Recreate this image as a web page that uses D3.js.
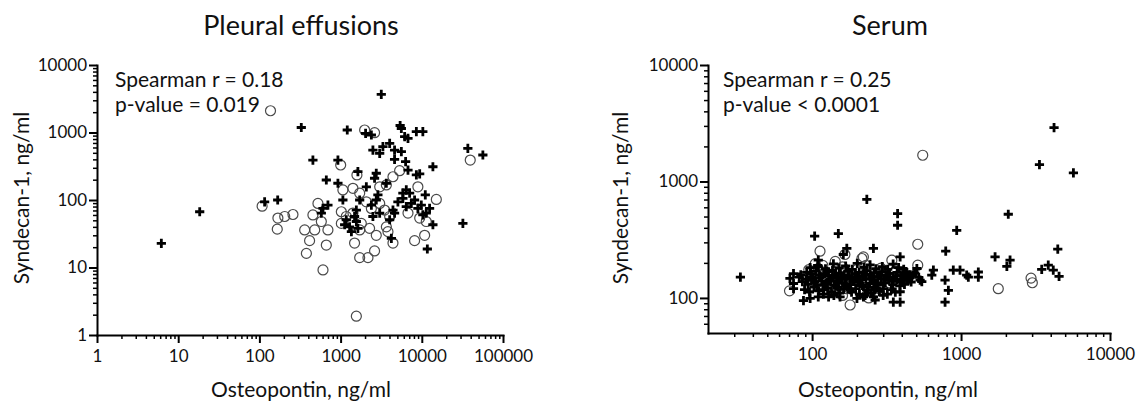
<!DOCTYPE html>
<html lang="en">
<head>
<meta charset="UTF-8">
<title>Syndecan-1 vs Osteopontin</title>
<script src="https://d3js.org/d3.v7.min.js"></script>
<style>
    body { margin: 0; background: #fff; }
    svg { display: block; font-family: Lato, "Open Sans", sans-serif; }
    .domain { stroke: #000; stroke-width: 2; stroke-linecap: square; }
    .major line { stroke: #000; stroke-width: 2; }
    .minor line { stroke: #000; stroke-width: 1.5; }
    .tick text { fill: #111; font-size: 17px; font-family: Lato, sans-serif; }
</style>
</head>
<body>
<div id="chart"></div>
<script>
// Pleural effusions: [osteopontin, syndecan-1] in ng/ml
const pleuralCross = [
    [6.2,22.8],[18.4,67],[116,94],[168,100],[3170,3660],[328,1186],[1208,1089],[2032,973],
    [2393,918],[5410,1270],[5600,1146],[6150,867],[6760,820],[8570,1028],[10300,1028],[2500,550],
    [3320,616],[4020,692],[4620,550],[5600,520],[3030,492],[456,391],[927,391],[6320,370],
    [4620,401],[13700,311],[36900,583],[56500,464],[1633,263],[2750,249],[2620,210],[6760,278],
    [8570,235],[9420,243],[667,198],[927,177],[2075,157],[3660,177],[6440,141],[7080,126],
    [5850,126],[11040,119],[2880,119],[2750,100],[1067,100],[1718,100],[607,75],[698,84],
    [579,64],[2393,84],[3030,64],[2500,57],[1563,71],[1486,57],[1175,51],[1122,43],
    [1291,40],[1358,34],[1563,48],[1633,38],[4415,71],[4620,64],[4020,51],[5080,94],
    [5850,106],[6440,80],[7430,89],[8150,100],[8950,75],[9860,84],[11350,64],[12470,75],
    [10300,60],[13700,43],[32060,45],[4220,27],[11700,18.8]
];
const pleuralCircle = [
    [137,2100],[108,81],[169,54],[205,57],[259,61],[166,37],[1977,1089],[2620,993],
    [1002,330],[39500,391],[1589,235],[4415,221],[5330,272],[8950,157],[1419,149],[3030,157],
    [1067,141],[1718,126],[15100,102],[526,89],[456,60],[579,48],[2075,94],[2393,75],
    [3030,89],[3480,71],[1021,67],[1175,57],[1419,64],[1021,45],[1800,45],[1718,36],
    [4020,57],[3660,40],[6760,64],[9420,54],[11350,48],[2275,38],[2750,30],[3830,34],
    [4415,23],[8150,25],[10840,30],[1486,23],[2620,17.6],[2173,14],[1718,14],[667,21.5],
    [379,16.2],[415,25],[361,36],[480,36],[698,36],[607,9.2],[1563,1.9],[3660,167]
];

// Serum: [osteopontin, syndecan-1] in ng/ml
const serumCross = [
    [33,151],[104,339],[150,357],[233,703],[171,266],[258,266],[162,236],[110,211],[110,185],
    [375,530],[375,421],[351,92],[390,92],[390,113],[390,225],[505,179],[531,142],[636,157],
    [652,173],[887,173],[984,173],[1091,157],[1119,151],[1306,167],[1306,151],[781,142],
    [822,116],[781,92],[789,252],[935,381],[1692,225],[2133,211],[2030,187],[2075,523],
    [3480,176],[3850,191],[4160,173],[4550,153],[4460,262],[3360,1397],[4210,2900],[5680,1183],
    [432,147],[455,157],
    [87.5,95],[97,99],[110,102],[129,102],[154,102],[200,99],[221,102],[227,105],[258,102],[265,96],
    [71,147],[75,162],[75,133],[75,120],[82,151],
    [84,158],[92,166],[99,152],[106,170],[113,149],[121,162],[129,155],[137,172],[146,150],
    [155,163],[164,157],[174,169],[184,151],[195,160],[207,166],[219,153],[232,171],[246,158],
    [261,165],[277,152],[294,168],[312,157],[331,163],[351,150],[372,166],[395,155],[420,161],
    [446,150],[475,158],
    [86,138],[94,131],[101,144],[108,128],[116,140],[124,133],[132,146],[141,129],[150,141],
    [160,134],[170,147],[181,130],[192,143],[204,136],[217,128],[230,145],[244,133],[259,140],
    [275,129],[292,146],[310,135],[329,142],[349,130],[370,144],[393,137],[417,131],[443,142],
    [89,118],[96,112],[103,124],[111,115],[119,108],[127,121],[135,113],[144,126],[153,110],
    [163,119],[173,124],[184,112],[196,120],[208,108],[221,125],[235,116],[250,110],[266,122],
    [283,114],[301,120],[320,108],[340,118],[362,112],
    [97,182],[109,190],[123,178],[139,196],[152,180],[168,188],[186,176],[201,198],[223,183],
    [245,192],[268,178],[296,186],[322,176],[350,195],[381,182],[412,176],
    [91,145],[98,162],[104,137],[112,156],[118,130],[126,168],[133,139],[142,158],[149,124],
    [158,146],[167,132],[176,155],[188,139],[199,150],[211,143],[226,160],[239,124],[253,150],
    [270,135],[287,157],[305,145],[327,150],[346,139],[366,155],[388,127],[409,146],[428,168],
    [462,137],[488,164],[520,150],[545,138],[120,118],[180,118],[260,118],[140,105],[300,105]
];
const serumCircle = [
    [70.5,115],[113,252],[105,197],[110,179],[143,206],[166,236],[216,218],[221,225],[343,211],
    [180,87],[553,1680],[512,289],[512,191],[1778,120],[2950,148],[3010,135],
    [95,175],[118,190],[130,160],[145,140],[160,185],[170,120],[185,150],[200,175],[215,135],
    [230,190],[250,160],[270,140],[290,180],[310,155],[330,135],[360,170],[390,150],[160,105],
    [140,118],[100,128],[220,110],[280,120],[125,145],[240,100]
];

const pleuralXTicks = [1, 10, 100, 1000, 10000, 100000];
const pleuralYTicks = [1, 10, 100, 1000, 10000];
const serumXTicks = [100, 1000, 10000];
const serumYTicks = [100, 1000, 10000];

const titles = ["Pleural effusions", "Serum"];
const statLines = [
    ["Spearman r = 0.18", "p-value = 0.019"],
    ["Spearman r = 0.25", "p-value < 0.0001"]
];
const xTitle = "Osteopontin, ng/ml";
const yTitle = "Syndecan-1, ng/ml";

const width = 1143, height = 401;

const svg = d3.select("#chart").append("svg")
    .attr("width", width)
    .attr("height", height);

const panels = [
    {
        cross: pleuralCross, circle: pleuralCircle,
        xDomain: [1, 100000], yDomain: [1, 10000],
        xTicks: pleuralXTicks, yTicks: pleuralYTicks,
        left: 97, right: 503, top: 65, bottom: 335,
        title: titles[0], titleX: 301, xTitleX: 301, yTitleX: 29, stats: statLines[0], statX: 115
    },
    {
        cross: serumCross, circle: serumCircle,
        xDomain: [20, 10000], yDomain: [50, 10000],
        xTicks: serumXTicks, yTicks: serumYTicks,
        left: 708, right: 1110, top: 65, bottom: 333,
        title: titles[1], titleX: 890, xTitleX: 888, yTitleX: 628, stats: statLines[1], statX: 723
    }
];

const crossPath = "M-4.6,0H4.6M0,-4.6V4.6";

panels.forEach(p => {
    const x = d3.scaleLog().domain(p.xDomain).range([p.left, p.right]);
    const y = d3.scaleLog().domain(p.yDomain).range([p.bottom, p.top]);
    const g = svg.append("g");

    // minor ticks first, then major axis on top
    const xMinor = x.ticks().filter(v => !p.xTicks.includes(v) && v > p.xDomain[0]);
    const yMinor = y.ticks().filter(v => !p.yTicks.includes(v) && v > p.yDomain[0]);

    g.append("g").attr("class", "minor")
        .attr("transform", `translate(0,${p.bottom})`)
        .call(d3.axisBottom(x).tickValues(xMinor).tickSize(4).tickFormat(""))
        .call(a => a.select(".domain").remove());
    g.append("g").attr("class", "minor")
        .attr("transform", `translate(${p.left},0)`)
        .call(d3.axisLeft(y).tickValues(yMinor).tickSize(4).tickFormat(""))
        .call(a => a.select(".domain").remove());

    g.append("g").attr("class", "major")
        .attr("transform", `translate(0,${p.bottom})`)
        .call(d3.axisBottom(x).tickValues(p.xTicks).tickSize(8).tickSizeOuter(0)
            .tickPadding(7).tickFormat(d => d));
    g.append("g").attr("class", "major")
        .attr("transform", `translate(${p.left},0)`)
        .call(d3.axisLeft(y).tickValues(p.yTicks).tickSize(8).tickSizeOuter(0)
            .tickPadding(2).tickFormat(d => d));

    // markers: circles below crosses
    g.append("g").selectAll("circle")
        .data(p.circle)
        .join("circle")
        .attr("cx", d => x(d[0]))
        .attr("cy", d => y(d[1]))
        .attr("r", 5)
        .attr("fill", "none")
        .attr("stroke", "#4a4a4a")
        .attr("stroke-width", 1.2);

    g.append("g").selectAll("path")
        .data(p.cross)
        .join("path")
        .attr("transform", d => `translate(${x(d[0])},${y(d[1])})`)
        .attr("d", crossPath)
        .attr("stroke", "#000")
        .attr("stroke-width", 2.8);

    // texts
    g.append("text")
        .attr("x", p.titleX).attr("y", 35)
        .attr("text-anchor", "middle")
        .attr("font-size", 27).attr("fill", "#111")
        .text(p.title);

    g.append("text")
        .attr("x", p.xTitleX).attr("y", 397)
        .attr("text-anchor", "middle")
        .attr("font-size", 21).attr("fill", "#111")
        .text(xTitle);

    g.append("text")
        .attr("transform", `translate(${p.yTitleX},198) rotate(-90)`)
        .attr("text-anchor", "middle")
        .attr("font-size", 21).attr("fill", "#111")
        .text(yTitle);

    g.append("g").selectAll("text")
        .data(p.stats)
        .join("text")
        .attr("x", p.statX)
        .attr("y", (d, i) => 87 + i * 25)
        .attr("font-size", 21).attr("fill", "#111")
        .text(d => d);
});
</script>
</body>
</html>
